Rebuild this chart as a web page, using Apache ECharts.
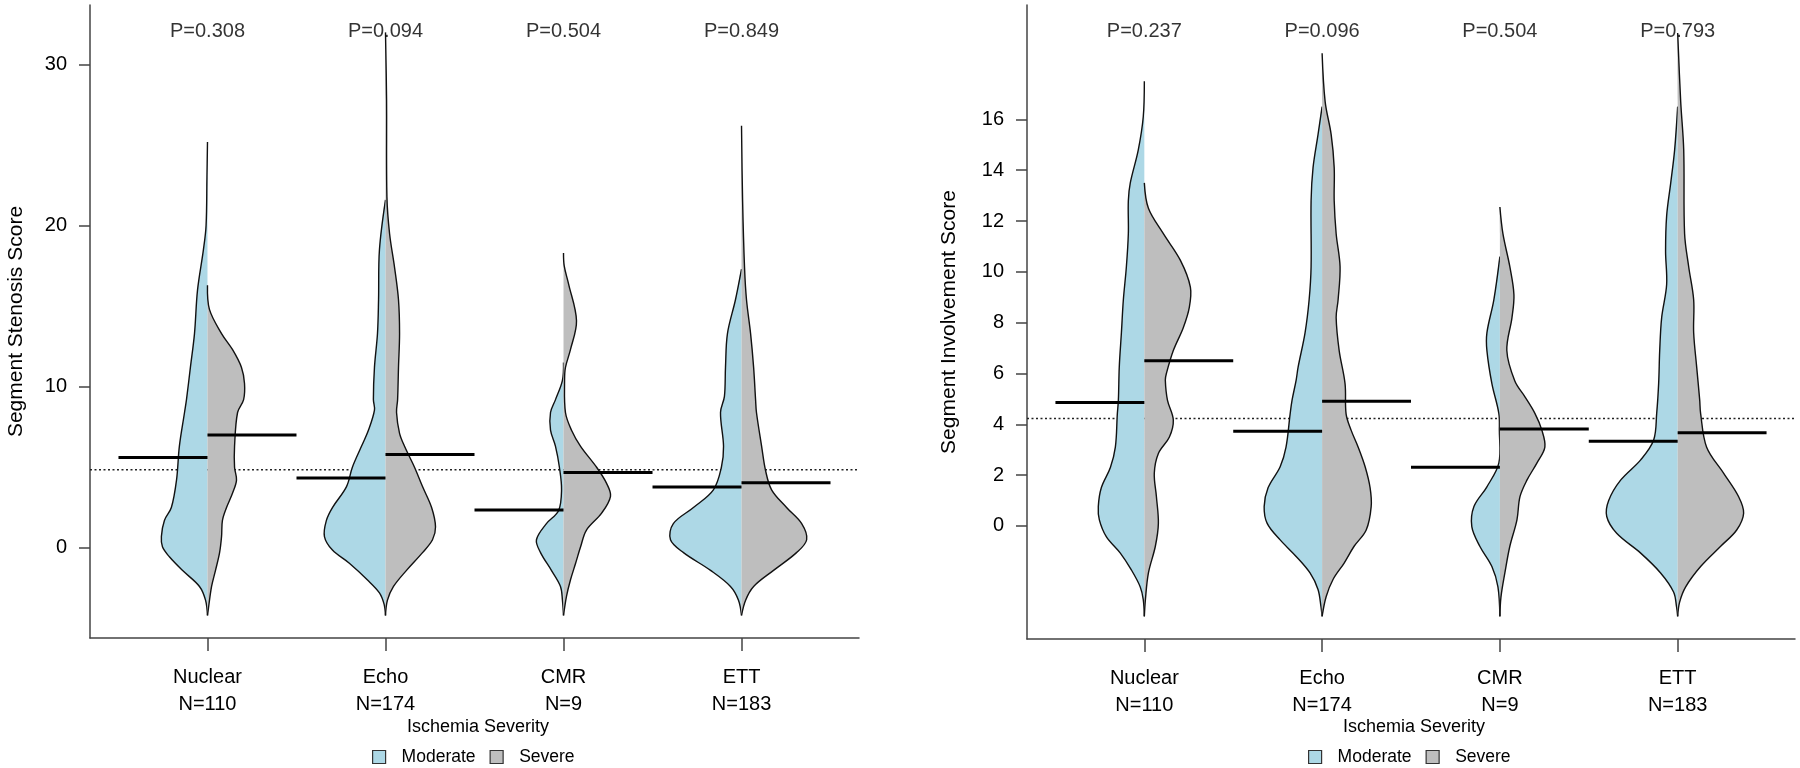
<!DOCTYPE html>
<html lang="en">
<head>
    <meta charset="UTF-8">
    <title>Segment scores by ischemia severity</title>
    <style>
        html,body{padding:0;margin:0;background:#fff;}
        #chart{width:1800px;height:768px;}
    </style>
    <script src="https://cdn.jsdelivr.net/npm/echarts@6.0.0/dist/echarts.min.js"></script>
</head>
<body>
<div id="chart"></div>
<script>
    var categories = ['Nuclear', 'Echo', 'CMR', 'ETT'];
    var counts = [110, 174, 9, 183];

    // p values printed above each pair of half violins
    var stenosisP = ['0.308', '0.094', '0.504', '0.849'];
    var involvementP = ['0.237', '0.096', '0.504', '0.793'];

    // medians (black bars) and overall median (dotted line)
    var stenosisMedModerate = [5.6, 4.33, 2.34, 3.77];
    var stenosisMedSevere = [7.0, 5.8, 4.68, 4.04];
    var stenosisOverall = 4.85;
    var involvementMedModerate = [4.86, 3.73, 2.31, 3.33];
    var involvementMedSevere = [6.5, 4.91, 3.81, 3.67];
    var involvementOverall = 4.23;

    var stenosisTicks = [0, 10, 20, 30];
    var involvementTicks = [0, 2, 4, 6, 8, 10, 12, 14, 16];

    // density profiles: [score, half width in hundredths of a category step]
    var stenosisModerate = [
        [[25.2,0],[23,0.3],[20,0.8],[18.5,2.3],[16,5.6],[13.3,7.3],[11.2,9.6],[9.2,11.8],[8.4,12.9],[6.3,15.8],[4.2,17.4],[2.5,20.3],[1.7,24.2],[0.7,25.9],[0.06,25.3],[-0.56,21.4],[-1.4,14.1],[-2.4,4.5],[-3.25,1.1],[-4.2,0]],
        [[21.6,0],[18.5,3.4],[15.4,3.9],[13.3,4.5],[11.2,6.2],[9.2,6.8],[8.55,6.2],[7.3,9.6],[6.3,13.5],[5,18.6],[3.8,21.9],[2.5,29.8],[1.7,33.2],[0.7,34.3],[-0.14,29.8],[-0.96,20.3],[-2,10.1],[-2.8,3.4],[-3.5,0.8],[-4.2,0]],
        [[11.5,0],[10.4,0.6],[9.2,4.5],[8.4,7.3],[7.3,7.3],[6.3,4.5],[5,2.3],[3.6,1.1],[2.3,2.8],[1.5,9.6],[0.5,15.2],[-0.3,12.9],[-1.4,6.8],[-2.4,1.7],[-3.25,0.6],[-4.2,0]],
        [[17.3,0],[15.4,3.4],[13.3,7.9],[11.2,9.0],[9.4,9.6],[8.4,11.8],[6.3,10.1],[5,11.3],[3.6,15.8],[2.5,27.0],[1.5,38.3],[0.5,39.9],[-0.3,32.6],[-1.4,17.4],[-2.4,6.2],[-3.25,1.7],[-4.2,0]]
    ];
    var stenosisSevere = [
        [[16.3,0],[14.8,1.1],[13.3,7.9],[12.3,14.1],[11.2,19.1],[10.2,20.8],[9.2,20.3],[8.4,16.9],[6.3,15.2],[5,15.2],[4.2,16.3],[3.4,14.1],[2.5,10.7],[1.7,8.4],[0.7,7.9],[-0.3,6.8],[-1.4,4.5],[-2.4,2.3],[-3.7,0.6],[-4.2,0]],
        [[32,0],[27.8,0.6],[21.8,0.8],[19.5,2.3],[17.4,5.1],[15.4,7.3],[13.3,7.9],[11.2,7.3],[9.2,6.8],[8.4,6.2],[7.1,7.9],[6.3,10.7],[5,16.3],[3.8,20.8],[2.5,25.9],[1.3,28.1],[0.5,26.4],[-0.3,20.8],[-1.4,11.8],[-2.4,4.5],[-3.25,1.1],[-4.2,0]],
        [[18.3,0],[17.5,0.4],[16.4,2.8],[14.1,7.3],[12.3,3.9],[11.2,1.1],[10.4,0.6],[8.4,1.1],[7.3,4.5],[6.3,9.6],[5,18.6],[4,24.2],[3.2,26.4],[2.15,21.4],[1.1,12.9],[0.06,9.6],[-0.96,6.8],[-2,3.9],[-3,1.7],[-4.2,0]],
        [[26.2,0],[21.6,0.6],[17.4,1.7],[15.4,2.8],[13.3,5.1],[11.2,6.8],[9.2,7.9],[8.4,8.4],[6.3,11.3],[4.8,13.5],[3.6,16.9],[2.5,25.3],[1.5,33.8],[0.5,36.6],[-0.3,30.9],[-1.4,18.0],[-2.4,6.8],[-3.25,2.3],[-4.2,0]]
    ];
    var involvementModerate = [
        [[17.5,0],[16.1,0.6],[14.8,3.4],[13.5,7.9],[12.8,9.0],[11.5,9.0],[10.2,10.1],[8.9,11.8],[7.6,12.9],[6.25,14.1],[4.95,14.6],[4.4,15.2],[3.1,16.3],[2.3,19.1],[1.5,24.2],[0.76,25.9],[0.24,25.3],[-0.42,21.4],[-1.07,13.5],[-1.73,7.3],[-2.4,2.3],[-2.9,0.6],[-3.56,0]],
        [[16.5,0],[15.4,2.3],[14.1,5.1],[12.8,6.2],[10.2,6.2],[8.9,7.3],[7.6,9.6],[6.25,13.5],[5.74,14.6],[4.95,16.9],[4.4,18.0],[3.1,20.3],[2.33,23.6],[1.5,30.4],[0.76,32.6],[0.1,30.9],[-0.55,23.6],[-1.2,14.6],[-1.85,6.8],[-2.5,2.3],[-3.2,0.6],[-3.56,0]],
        [[10.6,0],[8.9,3.4],[7.6,7.3],[6.9,7.3],[5.6,4.5],[4.43,0.6],[3.77,0.3],[2.47,0.6],[1.54,7.3],[0.76,14.6],[-0.03,15.8],[-0.8,11.3],[-1.6,4.5],[-2.4,1.1],[-3.56,0]],
        [[16.5,0],[14.8,1.7],[13.5,3.9],[12.2,6.2],[10.8,6.8],[9.5,6.2],[8.2,9.0],[6.9,10.1],[5.6,10.7],[4.43,11.8],[3.38,13.5],[2.6,20.8],[1.8,32.1],[1,38.8],[0.37,39.9],[-0.29,34.3],[-1.07,20.8],[-1.85,9.6],[-2.6,2.3],[-3.2,0.6],[-3.56,0]]
    ];
    var involvementSevere = [
        [[13.5,0],[12.5,2.3],[11.5,10.7],[10.45,20.3],[9.4,25.9],[8.6,25.3],[7.8,21.9],[6.9,16.3],[6,12.4],[5.74,11.8],[4.95,13],[4.17,16.3],[3.5,14.1],[2.85,7.9],[2.07,5.6],[1.15,6.8],[0.1,7.9],[-0.8,6.2],[-1.85,2.3],[-2.9,0.6],[-3.56,0]],
        [[18.6,0],[16.7,1.7],[15.4,5.1],[14.1,6.8],[12.8,6.8],[11.5,7.9],[10.2,10.1],[8.9,9.0],[8.2,7.9],[6.9,9.6],[5.6,12.9],[4.4,13.5],[3.77,16.3],[3.1,20.3],[2.33,24.2],[1.5,27.0],[0.76,27.6],[-0.16,24.8],[-0.8,18.0],[-1.46,12.4],[-2.1,6.2],[-2.78,2.3],[-3.56,0]],
        [[12.55,0],[11.5,1.7],[10.2,5.6],[9.1,7.9],[8.2,6.8],[6.9,3.9],[5.7,8.4],[5.08,14.1],[4.43,19.7],[3.77,23.6],[3.1,25.3],[2.47,20.8],[1.8,15.2],[1.15,11.3],[0.24,9.6],[-0.8,5.6],[-1.85,2.8],[-2.8,0.6],[-3.56,0]],
        [[19.4,0],[16.7,1.7],[14.8,3.4],[11.5,3.9],[10.2,6.2],[8.9,9.0],[7.6,9.0],[6.25,10.7],[4.95,12.4],[4.43,12.9],[3.1,16.3],[2.07,25.9],[1.15,34.3],[0.5,37.1],[-0.16,33.2],[-0.8,24.2],[-1.6,12.9],[-2.4,4.5],[-3,1.1],[-3.56,0]]
    ];

    var FONT = "'Liberation Sans', Arial, Helvetica, sans-serif";
    var BLUE = '#ADD8E6', GREY = '#BEBEBE', INK = '#000', AXIS = '#444';
    var X_MIN = 0.34, X_MAX = 4.66, BAR_LEN = 0.5;

    var panels = [
        {grid: {left: 90, right: 941, top: 5, bottom: 130}, yMin: -5.6, yMax: 33.7, ticks: stenosisTicks,
         name: 'Segment Stenosis Score', nameGap: 63, p: stenosisP,
         moderate: stenosisModerate, severe: stenosisSevere,
         medMod: stenosisMedModerate, medSev: stenosisMedSevere, overall: stenosisOverall,
         legendLeft: 372, titleLeft: 407},
        {grid: {left: 1027, right: 5, top: 5, bottom: 129}, yMin: -4.45, yMax: 20.5, ticks: involvementTicks,
         name: 'Segment Involvement Score', nameGap: 67, p: involvementP,
         moderate: involvementModerate, severe: involvementSevere,
         medMod: involvementMedModerate, medSev: involvementMedSevere, overall: involvementOverall,
         legendLeft: 1308, titleLeft: 1343}
    ];

    function violinRender(profiles, side, fill) {
        return function (params, api) {
            var cx = api.value(0);
            var prof = profiles[params.dataIndex];
            var outer = prof.map(function (p) { return api.coord([cx + side * p[1] / 100, p[0]]); });
            var spine = prof.slice(1, -1).reverse().map(function (p) { return api.coord([cx, p[0]]); });
            return {
                type: 'group',
                children: [
                    {type: 'polygon', shape: {points: outer.concat(spine), smooth: 0.35}, style: {fill: fill}},
                    {type: 'polyline', shape: {points: outer, smooth: 0.35}, style: {stroke: '#111', lineWidth: 1.4, fill: null}}
                ]
            };
        };
    }

    function medianRender(side) {
        return function (params, api) {
            var a = api.coord([api.value(0), api.value(1)]);
            var b = api.coord([api.value(0) + side * BAR_LEN, api.value(1)]);
            return {type: 'line', shape: {x1: a[0], y1: a[1], x2: b[0], y2: b[1]}, style: {stroke: '#000', lineWidth: 3}};
        };
    }

    function overallRender(params, api) {
        var a = api.coord([X_MIN, api.value(1)]);
        var b = api.coord([X_MAX, api.value(1)]);
        return {type: 'line', shape: {x1: a[0], y1: a[1], x2: b[0], y2: b[1]},
                style: {stroke: '#222', lineWidth: 1.6, lineDash: [2, 2.5]}};
    }

    var grids = [], xAxes = [], yAxes = [], series = [], legends = [], titles = [];
    var legendData = [{name: 'Moderate', icon: 'rect'}, {name: 'Severe', icon: 'rect'}];

    panels.forEach(function (pn, k) {
        grids.push(pn.grid);
        xAxes.push({
            type: 'value', gridIndex: k, min: X_MIN, max: X_MAX,
            axisLine: {onZero: false, lineStyle: {color: AXIS, width: 1.5}},
            axisTick: {customValues: [1, 2, 3, 4], length: 13, lineStyle: {color: AXIS, width: 1.5}},
            axisLabel: {
                customValues: [1, 2, 3, 4], margin: 26, lineHeight: 27,
                fontFamily: FONT, fontSize: 20, color: INK,
                formatter: function (v) { return categories[v - 1] + '\nN=' + counts[v - 1]; }
            },
            splitLine: {show: false}
        });
        yAxes.push({
            type: 'value', gridIndex: k, min: pn.yMin, max: pn.yMax,
            name: pn.name, nameLocation: 'middle', nameGap: pn.nameGap,
            nameTextStyle: {fontFamily: FONT, fontSize: 21, color: INK},
            axisLine: {show: true, onZero: false, lineStyle: {color: AXIS, width: 1.5}},
            axisTick: {show: true, customValues: pn.ticks, length: 11, lineStyle: {color: AXIS, width: 1.5}},
            axisLabel: {customValues: pn.ticks, margin: 23, fontFamily: FONT, fontSize: 20, color: INK},
            splitLine: {show: false}
        });

        var idx = categories.map(function (c, i) { return [i + 1, 0]; });
        series.push({
            type: 'custom', xAxisIndex: k, yAxisIndex: k, z: 1, silent: true,
            data: [[1, pn.overall]], renderItem: overallRender
        });
        series.push({
            type: 'custom', name: 'Moderate', xAxisIndex: k, yAxisIndex: k, z: 2,
            itemStyle: {color: BLUE}, data: idx, renderItem: violinRender(pn.moderate, -1, BLUE)
        });
        series.push({
            type: 'custom', name: 'Severe', xAxisIndex: k, yAxisIndex: k, z: 2,
            itemStyle: {color: GREY}, data: idx, renderItem: violinRender(pn.severe, 1, GREY)
        });
        series.push({
            type: 'custom', xAxisIndex: k, yAxisIndex: k, z: 3, silent: true,
            data: pn.medMod.map(function (m, i) { return [i + 1, m]; }), renderItem: medianRender(-1)
        });
        series.push({
            type: 'custom', xAxisIndex: k, yAxisIndex: k, z: 3, silent: true,
            data: pn.medSev.map(function (m, i) { return [i + 1, m]; }), renderItem: medianRender(1)
        });
        series.push({
            type: 'scatter', xAxisIndex: k, yAxisIndex: k, z: 4, symbolSize: 0, silent: true,
            data: categories.map(function (c, i) { return [i + 1, pn.yMax]; }),
            label: {
                show: true, position: 'bottom', distance: 16,
                fontFamily: FONT, fontSize: 20, color: INK,
                formatter: (function (pv) { return function (d) { return 'P=' + pv[d.dataIndex]; }; })(pn.p)
            }
        });

        legends.push({
            data: legendData, left: pn.legendLeft, top: 748, padding: 0,
            itemWidth: 13, itemHeight: 13, itemGap: 14,
            itemStyle: {borderColor: '#333', borderWidth: 1.2},
            textStyle: {fontFamily: FONT, fontSize: 17.5, color: INK, padding: [0, 0, 0, 11]}
        });
        titles.push({
            text: 'Ischemia Severity', left: pn.titleLeft, top: 718, padding: 0,
            textStyle: {fontFamily: FONT, fontSize: 18, fontWeight: 'normal', color: INK}
        });
    });

    var myChart = echarts.init(document.getElementById('chart'));
    myChart.setOption({
        animation: false,
        backgroundColor: '#fff',
        title: titles,
        legend: legends,
        grid: grids,
        xAxis: xAxes,
        yAxis: yAxes,
        series: series
    });
</script>
</body>
</html>
